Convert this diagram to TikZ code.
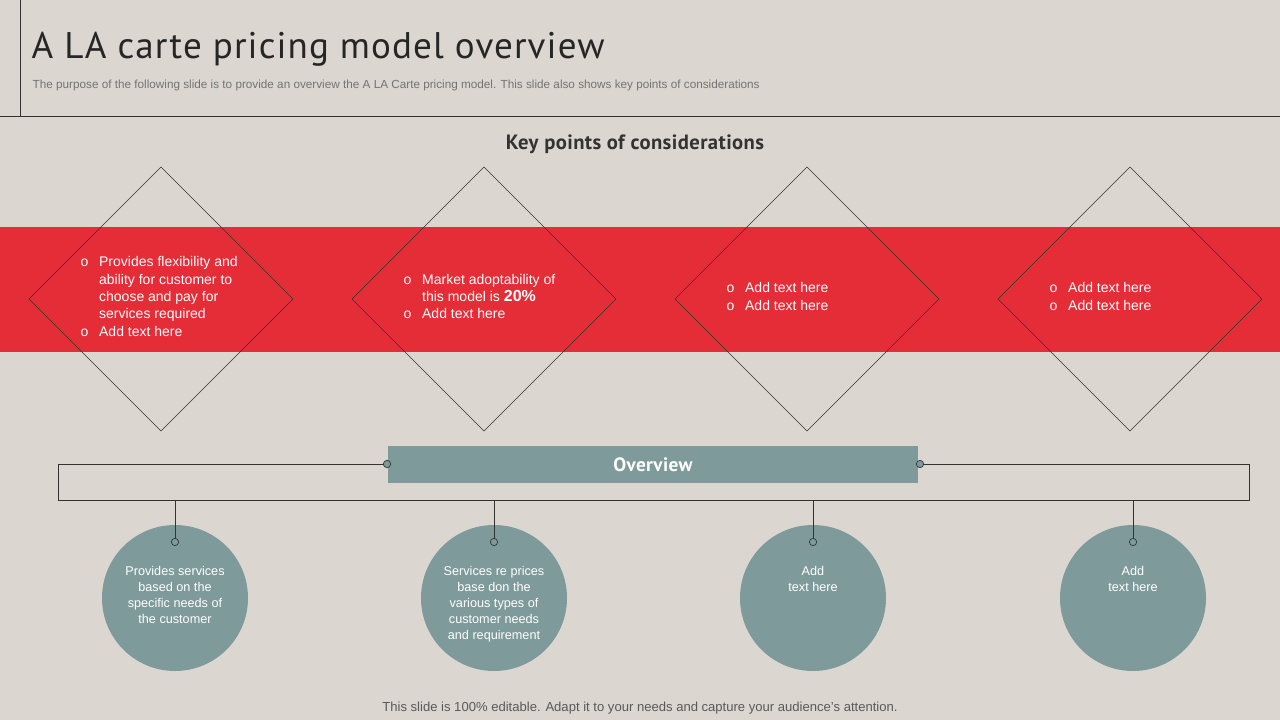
\documentclass[tikz,border=0pt]{standalone}
\usepackage{fontspec}
\setmainfont{Liberation Sans}
\newfontfamily\titlefont[LetterSpace=3]{PT Sans}
\newfontfamily\hfont[LetterSpace=2]{PT Sans}
\begin{document}
\begin{tikzpicture}[x=0.75pt,y=-0.75pt,
  dia/.style={draw=black!80,line width=0.5pt},
  btxt/.style={text=white,font=\fontsize{10.5}{13}\selectfont,align=left,anchor=west},
  ctxt/.style={text=white,font=\fontsize{9.5}{12}\selectfont,align=center},
  circ/.style={circle,fill=ovc,minimum size=146*0.75pt,inner sep=0pt},
  dot/.style={circle,draw=black!80,fill=ovc,inner sep=0pt,minimum size=5.5pt,line width=0.5pt}]
\definecolor{bg}{HTML}{DBD7D0}
\definecolor{rd}{HTML}{E52D38}
\definecolor{ovc}{HTML}{7E9A9A}
\fill[bg] (0,0) rectangle (1280,720);
\useasboundingbox (0,0) rectangle (1280,720);
\draw[black!80,line width=0.6pt] (20,0) -- (20,116);
\draw[black!80,line width=0.6pt] (0,116) -- (1280,116);
\node[anchor=west,text=black!85,font=\titlefont\fontsize{27.8}{32}\selectfont] (title) at (27,49) {A LA carte pricing model overview};
\node[anchor=west,text=black!55,font=\fontsize{8.8}{10}\selectfont] (sub) at (28,85) {The purpose of the following slide is to provide an overview the A  LA Carte pricing model. This slide also shows key points of considerations};
\node[text=black!80,font=\hfont\bfseries\fontsize{15.5}{18}\selectfont] (kp) at (635,144) {Key points of considerations};
\fill[rd] (0,227) rectangle (1280,352);
\foreach \cx in {161,484,807,1130}{
  \draw[dia] (\cx,167) -- (\cx+132,299) -- (\cx,431) -- (\cx-132,299) -- cycle;
}
\node[btxt] (t1) at (76,298) {\begin{tabular}{@{}l@{\hspace{8pt}}l@{}}o & Provides flexibility and\\ & ability for customer to\\ & choose and pay for\\ & services required\\ o & Add text here\end{tabular}};
\node[btxt] (t2) at (399,298) {\begin{tabular}{@{}l@{\hspace{8pt}}l@{}}o & Market adoptability of\\ & this model is \textbf{\fontsize{12}{13}\selectfont 20\%}\\ o & Add text here\end{tabular}};
\node[btxt] (t3) at (722,298) {\begin{tabular}{@{}l@{\hspace{8pt}}l@{}}o & Add text here\\ o & Add text here\end{tabular}};
\node[btxt] (t4) at (1045,298) {\begin{tabular}{@{}l@{\hspace{8pt}}l@{}}o & Add text here\\ o & Add text here\end{tabular}};
\draw[black!80,line width=0.5pt] (388,464) -- (58,464) -- (58,500) -- (1249,500) -- (1249,464) -- (918,464);
\node[fill=ovc,minimum width=530*0.75pt,minimum height=37*0.75pt,text=white,font=\hfont\bfseries\fontsize{14.5}{17}\selectfont] (ov) at (653,464.5) {Overview};
\node[dot] (d1) at (387,464) {};
\node[dot] (d2) at (920,464) {};
\foreach \cx/\t [count=\i] in {175/{Provides services\\based on the\\specific needs of\\the customer},494/{Services re prices\\base don the\\various types of\\customer needs\\and requirement},813/{Add\\text here},1133/{Add\\text here}}{
  \node[circ] (c\i) at (\cx,598) {};
  \coordinate (top\i) at (\cx,500);
  \node[dot] (p\i) at (\cx,542) {};
  \draw[black!80,line width=0.5pt] (top\i) -- (p\i);
  \node[ctxt,anchor=north] (ct\i) at (\cx,562) {\t};
}
\node[text=black!65,font=\fontsize{9.8}{11}\selectfont] (foot) at (640,708) {This slide is 100\% editable. Adapt it to your needs and capture your audience's attention.};
\end{tikzpicture}
\end{document}
